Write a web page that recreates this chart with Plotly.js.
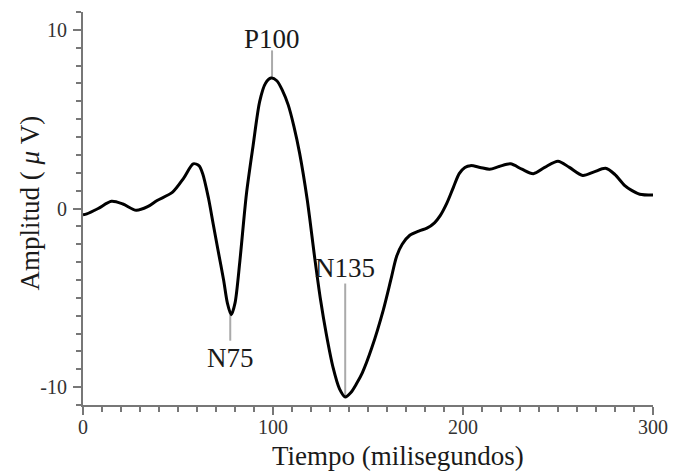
<!DOCTYPE html>
<html>
<head>
<meta charset="utf-8">
<script src="https://cdn.plot.ly/plotly-3.0.1.min.js"></script>
<style>html,body{margin:0;padding:0;background:#fff;}#chart{width:673px;height:472px;}</style>
</head>
<body>
<div id="chart"></div>
<script>
// Waveform (time in ms, amplitude in µV)
const timeMs = [0, 2, 8, 15, 21, 28, 34, 39, 47, 53, 58, 61, 63, 66, 68.5, 71, 74, 76, 78, 80, 82.6, 86, 89.5, 93, 96, 99, 102, 105, 108, 111, 114, 118, 122, 125, 128, 131.6, 135, 138, 141, 144, 147, 152, 158, 162, 165, 168, 172, 177, 181, 185, 188, 191.5, 195, 198, 201, 204, 209, 214, 219, 225, 231, 237, 243, 250, 256, 263, 269, 275, 280, 285, 289, 293, 300];
const amplitude = [-0.35, -0.3, 0.0, 0.4, 0.25, -0.1, 0.1, 0.45, 0.9, 1.7, 2.5, 2.4, 1.95, 0.6, -0.85, -2.3, -4.0, -5.3, -5.95, -5.3, -2.9, 0.8, 3.5, 6.0, 7.0, 7.3, 7.15, 6.6, 5.8, 4.6, 3.1, 0.5, -2.8, -5.1, -7.0, -8.9, -10.1, -10.55, -10.3, -9.8, -9.2, -7.8, -5.7, -4.0, -2.7, -2.0, -1.5, -1.25, -1.1, -0.8, -0.4, 0.3, 1.2, 1.95, 2.3, 2.4, 2.3, 2.2, 2.35, 2.5, 2.2, 1.95, 2.3, 2.65, 2.3, 1.85, 2.05, 2.25, 1.9, 1.3, 1.0, 0.8, 0.75];

// Labelled components
const peakLabels = ['N75', 'P100', 'N135'];
const peakTimes = [77.5, 99.5, 138];
const peakAmps = [-5.95, 7.3, -10.55];
const leaderEnds = [-7.4, 8.85, -4.2];
const labelAmps = [-8.35, 9.5, -3.35];

const xTickVals = [0, 100, 200, 300];
const xTickText = ['0', '100', '200', '300'];
const yTickVals = [-10, 0, 10];
const yTickText = ['-10', '0', '10'];

const serif = '"Liberation Serif", "Times New Roman", serif';

const traces = [];
peakLabels.forEach((lab, i) => {
  traces.push({
    x: [peakTimes[i], peakTimes[i]],
    y: [peakAmps[i], leaderEnds[i]],
    mode: 'lines',
    line: {color: '#aaaaaa', width: 2},
    hoverinfo: 'skip',
    showlegend: false
  });
});
traces.push({
  x: timeMs, y: amplitude,
  mode: 'lines',
  line: {color: '#000000', width: 3, shape: 'spline', smoothing: 0.8},
  showlegend: false
});

const annotations = peakLabels.map((lab, i) => ({
  x: peakTimes[i], y: labelAmps[i], xref: 'x', yref: 'y',
  text: lab, showarrow: false, xanchor: 'center', yanchor: 'middle',
  font: {family: serif, size: 27, color: '#1a1a1a'}
}));
annotations.push({
  x: 0.553, y: -0.13, xref: 'paper', yref: 'paper',
  text: 'Tiempo (milisegundos)', showarrow: false, xanchor: 'center', yanchor: 'middle',
  font: {family: serif, size: 27, color: '#1a1a1a'}
});
annotations.push({
  x: -0.093, y: 0.515, xref: 'paper', yref: 'paper',
  text: 'Amplitud ( <i>μ</i> V)', textangle: -90, showarrow: false, xanchor: 'center', yanchor: 'middle',
  font: {family: serif, size: 27, color: '#1a1a1a'}
});

const axisCommon = {
  showgrid: false, zeroline: false, showline: true,
  linecolor: '#777777', linewidth: 2,
  ticks: 'outside', tickcolor: '#777777', tickwidth: 2, ticklen: 8,
  tickfont: {family: serif, size: 20, color: '#333333'},
  fixedrange: true
};

const layout = {
  width: 673, height: 472,
  margin: {l: 83, r: 20, t: 12, b: 67},
  paper_bgcolor: '#ffffff', plot_bgcolor: '#ffffff',
  xaxis: Object.assign({}, axisCommon, {
    range: [0, 300], tickmode: 'array', tickvals: xTickVals, ticktext: xTickText,
    ticklabelstandoff: -5,
    minor: {dtick: 10, ticks: 'outside', ticklen: 5, tickwidth: 2, tickcolor: '#777777', showgrid: false}
  }),
  yaxis: Object.assign({}, axisCommon, {
    range: [-11, 11], tickmode: 'array', tickvals: yTickVals, ticktext: yTickText,
    ticklabelstandoff: 2,
    minor: {dtick: 1, ticks: 'outside', ticklen: 5, tickwidth: 2, tickcolor: '#777777', showgrid: false}
  }),
  annotations: annotations,
  showlegend: false
};

Plotly.newPlot('chart', traces, layout, {displayModeBar: false, staticPlot: true});
</script>
</body>
</html>
